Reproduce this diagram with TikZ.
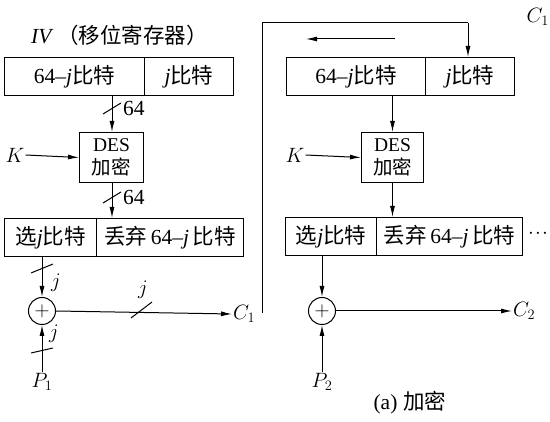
\documentclass[tikz,border=0pt]{standalone}
\usepackage{fontspec}
\setmainfont{Liberation Serif}
\newfontfamily\cjk{Noto Sans CJK SC}
\usetikzlibrary{arrows.meta}
\newcommand{\zh}[1]{{\cjk #1}}
\begin{document}
\begin{tikzpicture}[x=1pt,y=-1pt,
  font=\fontsize{21.5}{23}\selectfont,
  reg/.style={draw,line width=1pt,inner sep=0pt,anchor=north west,minimum height=38pt},
  desbox/.style={draw,line width=1pt,inner sep=0pt,anchor=north west,minimum height=50pt,align=center,font=\fontsize{19.5}{22.5}\selectfont},
  xorn/.style={draw,circle,line width=1pt,minimum size=27pt,inner sep=0pt},
  conn/.style={line width=1pt,-{Latex[length=11pt,width=5pt]}},
  plain/.style={line width=1pt},
  lbl/.style={inner sep=1pt}]
\useasboundingbox (0,0) rectangle (550,422);

% title
\node[lbl,anchor=west] (title) at (30,35) {\textit{IV}\,\zh{（移位寄存器）}};

% left column
\node[reg,minimum width=140pt] (ltA) at (4,57) {64--\textit{j}\zh{比特}};
\node[reg,minimum width=89pt] (ltB) at (144,57) {\textit{j}\zh{比特}};
\node[desbox,minimum width=64pt] (desL) at (79,132) {DES\\\zh{加密}};
\node[reg,minimum width=92pt] (lbA) at (4,218) {\zh{选}\textit{j}\zh{比特}};
\node[reg,minimum width=147pt] (lbB) at (96,218) {\zh{丢弃}\,64--\textit{j}\,\zh{比特}};
\node[xorn] (xL) at (42,311) {$+$};
\node[lbl] (kL) at (15,155) {$K$};
\node[lbl] (pL) at (42,382) {$P_1$};
\node[lbl,anchor=west] (cL) at (232,314) {$C_1$};

\draw[conn] (112,95) -- (desL.north -| 112,0);
\draw[plain] (103,114) -- (121,103);
\node[lbl,anchor=west] (n64a) at (122,108) {64};
\draw[conn] (kL.east) -- (desL.west);
\draw[conn] (desL.south -| 112,0) -- (lbA.north -| 112,0);
\draw[plain] (103,203) -- (121,192);
\node[lbl,anchor=west] (n64b) at (122,197) {64};
\draw[conn] (lbA.south -| xL.north) -- (xL.north);
\draw[plain] (31,273) -- (53,264);
\node[lbl] (jL1) at (56,283) {$j$};
\draw[conn] (pL.north) -- (xL.south);
\draw[plain] (31,353) -- (53,348);
\node[lbl] (jL2) at (54,334) {$j$};
\draw[conn] (xL.east) -- (cL.west);
\draw[plain] (131,318) -- (152,302);
\node[lbl] (jL3) at (143,290) {$j$};

% feedback
\coordinate (fb1) at (262,313);
\coordinate (fb2) at (262,23);
\coordinate (fb3) at (468,23);
\node[reg,minimum width=139pt] (rtA) at (286,57) {64--\textit{j}\zh{比特}};
\node[reg,minimum width=89pt] (rtB) at (425,57) {\textit{j}\zh{比特}};
\draw[plain] (fb1) -- (fb2) -- (fb3);
\draw[conn] (fb3) -- (rtB.north -| fb3);
\coordinate (sh1) at (395,39);
\coordinate (sh2) at (306,39);
\draw[conn] (sh1) -- (sh2);
\node[lbl,anchor=east] (cTop) at (550,17) {$C_1$};

% right column
\node[desbox,minimum width=62pt] (desR) at (361,132) {DES\\\zh{加密}};
\node[reg,minimum width=91pt] (rbA) at (285,217) {\zh{选}\textit{j}\zh{比特}};
\node[reg,minimum width=146pt] (rbB) at (376,217) {\zh{丢弃}\,64--\textit{j}\,\zh{比特}};
\node[xorn] (xR) at (322,311) {$+$};
\node[lbl] (kR) at (295,155) {$K$};
\node[lbl] (pR) at (322,382) {$P_2$};
\node[lbl,anchor=west] (cR) at (512,311) {$C_2$};
\node[lbl,anchor=east] (dots) at (549,234) {$\cdot\!\cdot\!\cdot$};
\draw[conn] (rtA.south -| desR.north) -- (desR.north);
\draw[conn] (kR.east) -- (desR.west);
\draw[conn] (desR.south) -- (desR.south |- rbB.north);
\draw[conn] (rbA.south -| xR.north) -- (xR.north);
\draw[conn] (pR.north) -- (xR.south);
\draw[conn] (xR.east) -- (cR.west);

\node[lbl] (cap) at (410,403) {(a)\;\zh{加密}};
\end{tikzpicture}
\end{document}
